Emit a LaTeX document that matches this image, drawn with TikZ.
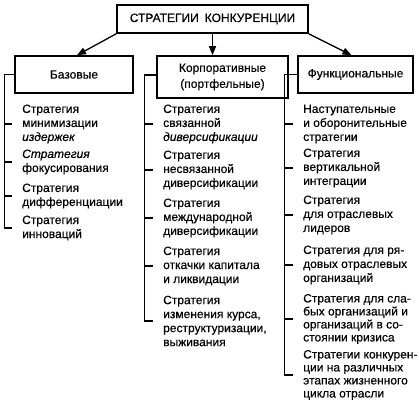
\documentclass[tikz,border=0pt]{standalone}
\usepackage{fontspec}
\setmainfont{Liberation Sans}[FakeBold=0.4]
\usetikzlibrary{arrows.meta}
\begin{document}
\begin{tikzpicture}[x=1pt,y=-1pt,
  box/.style={draw, line width=1.6pt, inner sep=0pt, align=center, font=\fontsize{12}{16}\selectfont},
  item/.style={anchor=west, align=left, inner sep=0pt, font=\fontsize{12}{14}\selectfont},
  tight/.style={font=\fontsize{12}{13}\selectfont},
  link/.style={line width=1.3pt},
  arr/.style={line width=1.3pt, -{Triangle[length=9pt,width=7pt]}}]
\useasboundingbox (0,0) rectangle (419,408);

% top and category boxes
\node[box, minimum width=191pt, minimum height=28pt] (top) at (212.5,19) {СТРАТЕГИИ\hspace{0.5em}КОНКУРЕНЦИИ};
\node[box, minimum width=118pt, minimum height=37pt] (base) at (74,74.5) {Базовые};
\node[box, minimum width=131pt, minimum height=42pt] (corp) at (222.5,77) {Корпоративные\\(портфельные)};
\node[box, minimum width=115pt, minimum height=37pt] (func) at (355.5,74.5) {Функциональные};

\draw[arr] (top.south west) -- ([xshift=3pt]base.north);
\draw[arr] (top.south) -- (top.south |- corp.north);
\draw[arr] (top.south east) -- ([xshift=-4pt]func.north);

% left column
\node[item] (b1) at (22,124) {Стратегия\\минимизации\\\textit{издержек}};
\node[item] (b2) at (22,162) {\textit{Стратегия}\\фокусирования};
\node[item] (b3) at (22,196) {Стратегия\\дифференциации};
\node[item] (b4) at (22,228) {Стратегия\\инноваций};

\draw[link] (base.west) -- ++(-10,0) |- ([xshift=-10pt]b4.west);
\foreach \n in {b1,b2,b3}
  \draw[link] ([xshift=-17pt]\n.west) -- ([xshift=-10pt]\n.west);

% middle column
\node[item] (c1) at (163,124) {Стратегия\\связанной\\\textit{диверсификации}};
\node[item] (c2) at (163,170) {Стратегия\\несвязанной\\диверсификации};
\node[item] (c3) at (163,218) {Стратегия\\международной\\диверсификации};
\node[item] (c4) at (163,266) {Стратегия\\откачки капитала\\и ликвидации};
\node[item] (c5) at (163,321) {Стратегия\\изменения курса,\\реструктуризации,\\выживания};

\draw[link] ([yshift=2pt]corp.west) -- ++(-12,0) |- ([xshift=-10pt]c5.west);
\foreach \n in {c1,c2,c3,c4}
  \draw[link] ([xshift=-18pt]\n.west) -- ([xshift=-10pt]\n.west);

% right column
\node[item] (f1) at (303,124) {Наступательные\\и оборонительные\\стратегии};
\node[item] (f2) at (303,168) {Стратегия\\вертикальной\\интеграции};
\node[item] (f3) at (303,215) {Стратегия\\для отраслевых\\лидеров};
\node[item] (f4) at (303,265) {Стратегия для ря-\\довых отраслевых\\организаций};
\node[item, tight] (f5) at (303,319) {Стратегия для сла-\\бых организаций и\\организаций в со-\\стоянии кризиса};
\node[item, tight] (f6) at (303,375) {Стратегии конкурен-\\ции на различных\\этапах жизненного\\цикла отрасли};

\draw[link] (func.west) -- ++(-13,0) |- ([xshift=-10pt]f6.west);
\foreach \n in {f1,f2,f3,f4,f5}
  \draw[link] ([xshift=-18pt]\n.west) -- ([xshift=-10pt]\n.west);
\end{tikzpicture}
\end{document}
